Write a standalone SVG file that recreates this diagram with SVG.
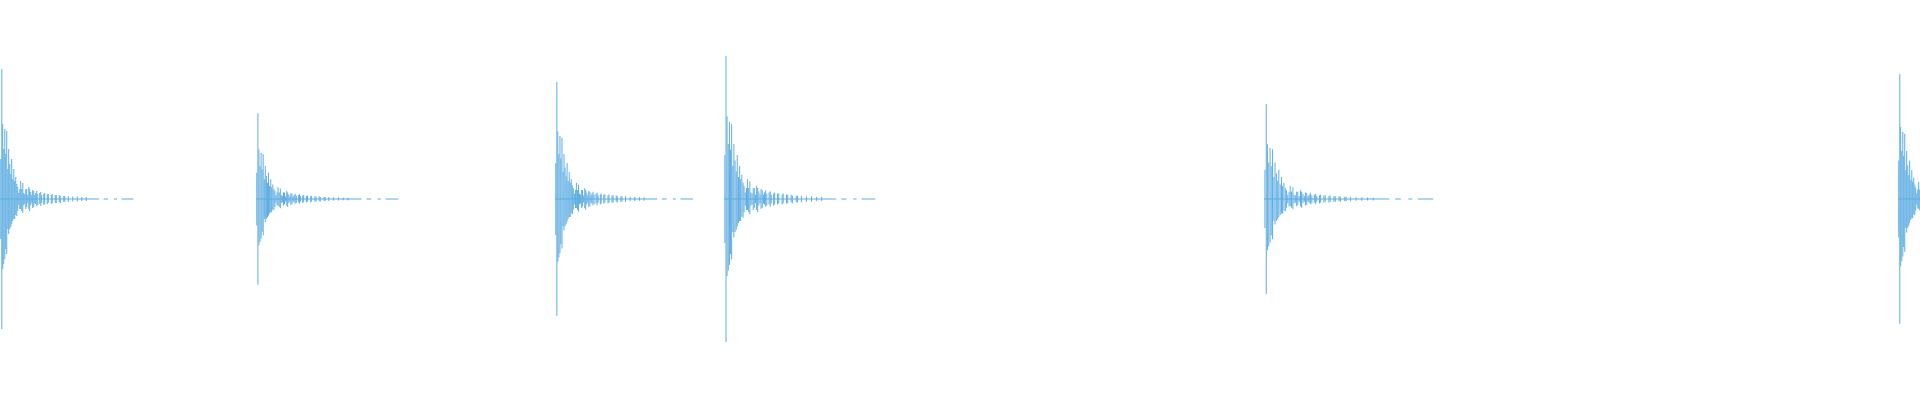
<svg xmlns="http://www.w3.org/2000/svg" width="1920" height="400" viewBox="0 0 1920 400">
<style>.w{fill:none;stroke:#5dade2;stroke-width:1;vector-effect:non-scaling-stroke}</style>
<defs>
<path id="b" class="w" d="M0.5,-0.4V0.4M1.2,-1.3V1.3M1.8,-0.75V0.7M2.5,-0.5V0.65M3.2,-0.7V0.6M3.8,-0.45V0.5M4.5,-0.68V0.55M5.2,-0.3V0.3M5.8,-0.5V0.35M6.5,-0.35V0.3M7.2,-0.25V0.28M7.8,-0.4V0.25M8.5,-0.2V0.22M9.2,-0.3V0.2M9.8,-0.18V0.2M10.5,-0.22V0.16M11.2,-0.15V0.17M11.8,-0.12V0.12M12.5,-0.06V0.06M13.2,-0.1V0.1M13.8,-0.18V0.1M14.5,-0.1V0.12M15.2,-0.16V0.14M15.8,-0.06V0.06M16.5,-0.05V0.05M17.2,-0.1V0.1M17.8,-0.1V0.08M18.5,-0.04V0.04M19.2,-0.12V0.1M19.8,-0.1V0.12M20.5,-0.07V0.06M21.2,-0.04V0.04M21.8,-0.09V0.09M22.5,-0.08V0.08M23.2,-0.04V0.04M23.8,-0.06V0.05M24.5,-0.08V0.07M25.2,-0.05V0.06M26.5,-0.06V0.05M27.2,-0.07V0.07M27.8,-0.04V0.04M29.2,-0.05V0.06M29.8,-0.06V0.05M31.5,-0.05V0.05M32.2,-0.05V0.04M34.2,-0.04V0.05M34.8,-0.05V0.04M36.8,-0.04V0.04M37.5,-0.04V0.04M39.5,-0.04V0.03M40.2,-0.03V0.04M42.5,-0.03V0.03M43.2,-0.03V0.03M45.5,-0.03V0.03M48.5,-0.025V0.025M51.5,-0.025V0.025M54.5,-0.02V0.02M57.5,-0.02V0.02M0,0H66M69,0H72M76,0H78M81,0H89"/>
</defs>
<use href="#b" transform="translate(0,199) scale(1.5,100)"/>
<use href="#b" transform="translate(256,199) scale(1.6,66)"/>
<use href="#b" transform="translate(555,199) scale(1.55,90)"/>
<use href="#b" transform="translate(724,199) scale(1.7,110)"/>
<use href="#b" transform="translate(1264,199) scale(1.9,73)"/>
<use href="#b" transform="translate(1898,199) scale(1.5,96)"/>
</svg>
